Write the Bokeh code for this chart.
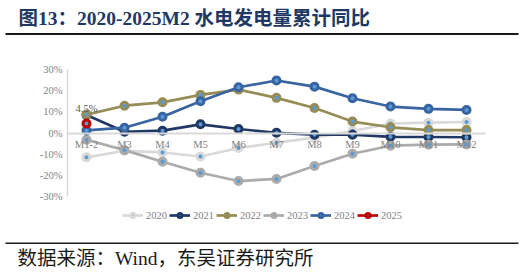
from bokeh.plotting import figure
from bokeh.models import (ColumnDataSource, FixedTicker, PrintfTickFormatter,
                          Legend, LegendItem, LabelSet, Range1d)
from bokeh.core.properties import value
from bokeh.embed import file_html
from bokeh.resources import INLINE

# ---- data: cumulative YoY growth of hydropower generation (%) ----
months = ["M1-2", "M3", "M4", "M5", "M6", "M7", "M8", "M9", "M10", "M11", "M12"]
y2020 = [-11.5, -8.4, -9.2, -11.1, -7.1, -4.6, -2.2, 0.9, 4.5, 4.9, 5.2]
y2021 = [8.5, 0.6, 1.1, 4.1, 1.9, 0.1, -0.8, -0.8, -1.8, -1.9, -2.0]
y2022 = [8.7, 12.9, 14.5, 18.0, 20.5, 16.6, 11.8, 5.4, 2.7, 1.4, 1.4]
y2023 = [-3.2, -8.1, -13.6, -18.8, -22.7, -21.7, -15.6, -9.8, -6.0, -5.5, -5.4]
y2024 = [1.2, 2.5, 7.7, 15.0, 21.6, 24.8, 21.9, 16.4, 12.5, 11.4, 10.9]
y2025 = [4.5]
y_ticks = [-30, -20, -10, 0, 10, 20, 30]

series = [
    ("2020", y2020, "#d9d9d9"),
    ("2021", y2021, "#203864"),
    ("2022", y2022, "#968c55"),
    ("2023", y2023, "#ababab"),
    ("2024", y2024, "#3864a2"),
    ("2025", y2025, "#c00000"),
]

SERIF = "Liberation Serif, Noto Sans CJK SC"
GREY = "#7f7f7f"
W, H = 525, 276

# plot-area geometry in canvas pixels
PLOT_TOP, PLOT_BOTTOM = 69, 196      # where +30% and -30% sit
FIRST_X, STEP_X = 86, 38             # centre of first month, month spacing
Y_MIN, Y_MAX = y_ticks[0], y_ticks[-1]

sy = (Y_MAX - Y_MIN) / (PLOT_BOTTOM - PLOT_TOP)
y_range = Range1d(Y_MIN - (H - PLOT_BOTTOM) * sy, Y_MAX + PLOT_TOP * sy)
x_range = Range1d(-FIRST_X / STEP_X, (W - FIRST_X) / STEP_X)
idx = list(range(len(months)))

p = figure(width=W, height=H, x_range=x_range, y_range=y_range,
           output_backend="svg", toolbar_location=None, min_border=0)
p.outline_line_color = None
p.grid.visible = False
p.title.visible = False

# pixel coordinates for the header/footer decorations
p.extra_x_ranges = {"px": Range1d(0, W)}
p.extra_y_ranges = {"py": Range1d(H, 0)}

p.yaxis.ticker = FixedTicker(ticks=y_ticks)
p.yaxis.formatter = PrintfTickFormatter(format="%d%%")
p.yaxis.fixed_location = -0.5
p.yaxis.bounds = (Y_MIN, Y_MAX)
p.yaxis.axis_line_color = "#d9d9d9"
p.yaxis.axis_line_width = 1.5

p.xaxis.ticker = FixedTicker(ticks=idx)
p.xaxis.major_label_overrides = {i: m for i, m in zip(idx, months)}
p.xaxis.fixed_location = 0
p.xaxis.bounds = (-0.5, len(months) - 0.5)
p.xaxis.axis_line_color = "#d9d9d9"
p.xaxis.axis_line_width = 2

for ax in (p.xaxis, p.yaxis):
    ax.major_tick_line_color = None
    ax.minor_tick_line_color = None
    ax.major_tick_out = 0
    ax.major_tick_in = 0
    ax.major_label_standoff = 5
    ax.major_label_text_font = SERIF
    ax.major_label_text_font_size = "10.5px"
    ax.major_label_text_color = GREY
p.xaxis.major_label_standoff = 6

items = []
for name, vals, color in series:
    src = ColumnDataSource(dict(x=idx[:len(vals)], y=vals))
    ln = p.line("x", "y", source=src, line_color=color, line_width=2.7)
    mk = p.scatter("x", "y", source=src, size=7, fill_color="#5b9bd5",
                   line_color=color, line_width=3)
    items.append(LegendItem(label=name, renderers=[ln, mk]))

# value label on the latest point
lab_src = ColumnDataSource(dict(x=idx[:len(y2025)], y=y2025,
                                t=[f"{v:.1f}%" for v in y2025]))
p.add_layout(LabelSet(x="x", y="y", text="t", source=lab_src, y_offset=9,
                      text_align="center", text_baseline="bottom",
                      text_font=value(SERIF), text_font_size="10.5px",
                      text_color="#595959"))

legend = Legend(items=items, orientation="horizontal", location=(122, 55),
                glyph_width=21, glyph_height=10, label_standoff=3, spacing=2,
                padding=0, margin=0, border_line_color=None, background_fill_alpha=0,
                label_text_font=SERIF, label_text_font_size="10.5px",
                label_text_color=GREY, label_height=12)
p.add_layout(legend, "center")

# ---- header: title and rule ----
p.text(x=[18], y=[18], text=["图13：2020-2025M2 水电发电量累计同比"],
       x_range_name="px", y_range_name="py",
       text_font=value(SERIF), text_font_size="19.5px", text_font_style="bold",
       text_color="#1f3864", text_baseline="middle", text_align="left")
p.segment(x0=[5], y0=[33.5], x1=[518], y1=[33.5], x_range_name="px", y_range_name="py",
          line_color="#1a1a1a", line_width=2)

# ---- footer: rule and source note ----
p.segment(x0=[5], y0=[242.7], x1=[518], y1=[242.7], x_range_name="px", y_range_name="py",
          line_color="#1a1a1a", line_width=1.5)
p.text(x=[17], y=[258], text=["数据来源：Wind，东吴证券研究所"],
       x_range_name="px", y_range_name="py",
       text_font=value(SERIF), text_font_size="19.5px", text_color="#1a1a1a",
       text_baseline="middle", text_align="left")

open("out.html", "w").write(file_html(p, INLINE))
